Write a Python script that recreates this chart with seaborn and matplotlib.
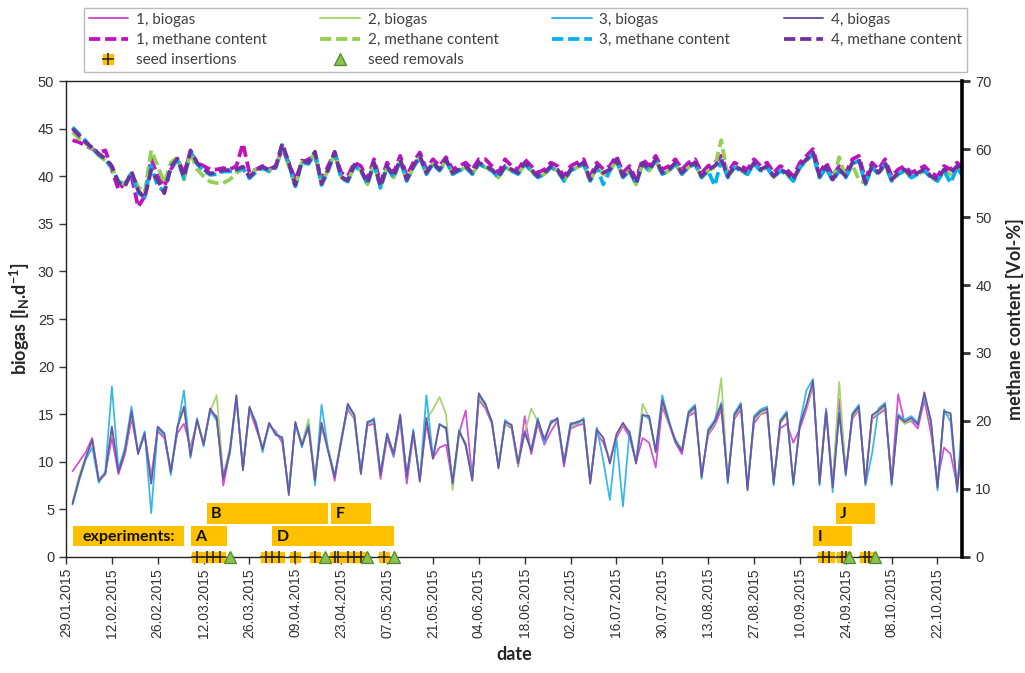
import numpy as np
import pandas as pd
import matplotlib
matplotlib.use("Agg")
import matplotlib.pyplot as plt
import matplotlib.dates as mdates
import seaborn as sns
from matplotlib.lines import Line2D
from matplotlib.legend_handler import HandlerTuple

# ---------------------------------------------------------------------------
# Daily readings of the four digesters, one value every second day
# ---------------------------------------------------------------------------
FIRST_READING = "2015-01-31"

biogas_1 = [
    9.0, 10.0, 11.0, 12.5, 8.2, 8.8, 12.5, 8.7, 10.8, 14.5,
    11.0, 12.8, 8.5, 13.2, 12.5, 9.2, 13.0, 14.0, 11.5, 14.2,
    12.0, 15.2, 14.8, 7.5, 11.0, 16.5, 9.5, 15.5, 13.5, 11.5,
    13.8, 13.2, 12.0, 7.0, 14.0, 11.9, 13.5, 8.5, 13.7, 11.3,
    8.0, 12.4, 15.5, 14.5, 9.0, 13.8, 14.0, 8.2, 12.5, 10.5,
    14.3, 7.7, 12.8, 8.3, 14.0, 10.4, 11.5, 11.8, 7.8, 13.0,
    15.4, 8.3, 16.5, 15.6, 14.0, 9.6, 14.0, 13.5, 9.5, 14.8,
    10.8, 14.0, 11.8, 13.2, 14.3, 9.5, 13.5, 13.8, 14.0, 8.0,
    13.0, 12.0, 10.2, 12.5, 13.8, 12.6, 10.0, 12.5, 12.0, 9.4,
    15.8, 14.0, 12.0, 10.8, 14.8, 15.2, 8.8, 12.8, 13.8, 15.5,
    8.3, 14.5, 15.5, 7.5, 14.0, 15.0, 15.2, 8.0, 13.5, 14.0,
    12.0, 13.5, 15.5, 18.0, 8.0, 15.6, 7.8, 16.6, 9.0, 14.5,
    15.5, 8.0, 14.5, 15.0, 15.5, 8.2, 17.1, 14.0, 14.3, 13.5,
    16.5, 13.0, 8.0, 11.5, 10.8, 7.5, 12.0,
]
biogas_2 = [
    5.8, 8.5, 10.5, 12.0, 8.2, 8.8, 13.5, 9.2, 11.0, 15.0,
    11.0, 12.8, 8.0, 13.5, 12.8, 9.0, 13.8, 15.5, 11.0, 14.2,
    12.0, 15.3, 17.0, 8.5, 11.5, 16.8, 9.3, 15.5, 14.0, 11.5,
    13.9, 13.0, 12.4, 6.8, 14.0, 11.8, 14.5, 8.3, 13.8, 11.4,
    8.6, 12.5, 15.8, 14.6, 9.0, 14.0, 14.2, 8.8, 12.7, 11.0,
    14.6, 8.6, 13.0, 8.0, 14.5, 15.5, 16.8, 15.0, 7.0, 13.0,
    12.0, 8.2, 16.8, 15.8, 14.3, 9.5, 14.0, 13.7, 9.6, 13.0,
    15.6, 14.2, 12.5, 14.0, 14.4, 9.9, 13.7, 14.0, 14.2, 7.9,
    13.2, 12.6, 10.0, 12.8, 14.0, 13.2, 10.0, 16.1, 14.6, 11.2,
    16.3, 14.0, 12.4, 11.3, 14.9, 15.6, 8.6, 13.0, 14.0, 18.8,
    8.0, 14.7, 15.8, 7.2, 14.4, 15.1, 15.4, 7.9, 14.0, 14.9,
    7.9, 14.0, 15.8, 18.2, 7.9, 15.1, 7.5, 18.4, 8.9, 14.7,
    15.6, 7.9, 14.7, 15.2, 15.8, 7.9, 14.6, 14.0, 14.4, 14.1,
    17.0, 14.0, 7.5, 15.0, 14.9, 7.2, 14.4,
]
biogas_3 = [
    5.5, 8.0, 10.2, 11.5, 7.8, 9.0, 17.9, 9.2, 11.5, 15.8,
    11.0, 13.2, 4.6, 13.5, 12.8, 8.6, 13.5, 17.5, 10.4, 14.6,
    11.6, 15.4, 14.3, 8.5, 10.8, 16.8, 9.3, 15.6, 14.2, 11.0,
    14.0, 12.8, 12.6, 6.8, 14.0, 11.5, 13.9, 7.5, 16.0, 11.3,
    8.5, 12.0, 15.8, 15.0, 8.9, 14.0, 14.6, 8.8, 13.0, 10.6,
    15.0, 8.6, 13.4, 8.1, 17.0, 10.5, 14.0, 13.4, 7.9, 13.4,
    11.6, 8.2, 17.0, 16.2, 14.0, 9.5, 14.4, 13.7, 10.0, 13.0,
    11.3, 14.6, 12.0, 14.3, 14.4, 10.0, 14.1, 14.0, 14.6, 7.9,
    13.6, 10.1, 6.0, 12.5, 5.3, 13.2, 10.0, 15.0, 14.5, 11.2,
    17.0, 14.4, 12.0, 11.3, 15.3, 16.0, 8.2, 13.4, 14.4, 16.2,
    7.7, 15.1, 16.2, 7.2, 14.8, 15.5, 15.8, 7.5, 14.4, 15.3,
    7.5, 14.1, 17.5, 18.7, 7.5, 15.5, 6.8, 15.3, 8.5, 15.1,
    16.0, 7.5, 10.8, 15.6, 16.2, 7.5, 15.0, 14.4, 14.8, 14.1,
    17.0, 14.4, 7.0, 15.5, 14.2, 6.8, 17.3,
]
biogas_4 = [
    5.6, 8.2, 10.4, 12.3, 8.0, 8.7, 13.7, 8.9, 11.1, 15.3,
    10.8, 13.0, 7.7, 13.7, 13.0, 8.9, 13.6, 15.8, 10.6, 14.4,
    11.8, 15.6, 14.6, 8.2, 11.1, 17.0, 9.1, 15.8, 13.9, 11.3,
    14.1, 12.9, 12.5, 6.5, 14.2, 11.7, 13.7, 8.0, 14.1, 11.1,
    8.4, 12.2, 16.1, 14.9, 8.7, 14.2, 14.4, 8.6, 12.9, 10.8,
    14.9, 8.4, 13.2, 7.9, 14.6, 10.3, 13.9, 13.6, 7.7, 13.2,
    11.8, 8.0, 17.2, 16.0, 14.2, 9.3, 14.2, 13.9, 9.8, 13.2,
    11.1, 14.4, 12.3, 14.1, 14.6, 9.8, 13.9, 14.2, 14.4, 7.7,
    13.4, 12.5, 9.8, 12.9, 14.1, 13.0, 9.8, 14.9, 14.8, 11.0,
    16.5, 14.2, 12.2, 11.1, 15.1, 15.8, 8.4, 13.2, 14.2, 16.0,
    7.9, 14.9, 16.0, 7.0, 14.6, 15.3, 15.6, 7.7, 14.2, 15.1,
    7.7, 13.9, 16.0, 18.5, 7.7, 15.3, 7.3, 15.1, 8.7, 14.9,
    15.8, 7.7, 14.9, 15.4, 16.0, 7.7, 14.8, 14.2, 14.6, 13.9,
    17.3, 14.2, 7.3, 15.3, 15.1, 7.0, 14.6,
]

methane_1 = [
    61.3, 61.0, 60.5, 60.0, 59.5, 59.8, 57.0, 54.0, 55.0, 56.0,
    51.5, 53.0, 58.5, 56.0, 54.5, 57.0, 58.5, 56.5, 59.5, 58.0,
    57.5, 57.0, 57.0, 57.2, 57.0, 57.5, 60.8, 56.5, 57.0, 57.5,
    57.0, 57.5, 60.0, 58.0, 55.5, 58.0, 58.5, 59.0, 55.5, 57.5,
    59.5, 56.5, 56.0, 58.0, 57.5, 55.5, 58.5, 55.0, 58.0, 56.5,
    59.0, 56.0, 58.0, 59.5, 57.0, 58.5, 57.5, 58.8, 57.0, 57.5,
    58.0, 57.0, 58.5, 58.5, 57.5, 56.5, 58.5, 57.5, 57.0, 58.5,
    57.5, 56.5, 57.0, 58.0, 57.5, 56.0, 57.5, 58.0, 58.5, 56.0,
    58.0, 57.0, 57.5, 59.0, 56.5, 57.5, 55.5, 58.5, 57.5, 59.0,
    57.0, 57.5, 58.5, 57.0, 58.0, 58.5, 56.5, 57.5, 58.0, 59.0,
    56.5, 58.0, 57.5, 57.0, 58.5, 57.5, 58.0, 56.5, 57.5, 57.0,
    56.0, 58.0, 59.0, 60.0, 56.5, 58.0, 56.0, 57.5, 56.5, 58.5,
    59.0, 55.5, 58.0, 57.0, 58.5, 56.0, 57.0, 57.5, 56.5, 57.0,
    57.5, 56.5, 56.0, 57.5, 57.0, 58.0, 57.0,
]
methane_2 = [
    62.5, 61.5, 60.8, 60.0, 59.0, 58.3, 57.2, 55.3, 54.8, 56.5,
    54.5, 53.5, 59.8, 57.5, 55.0, 58.0, 58.8, 55.5, 59.5, 57.0,
    56.0, 55.2, 55.0, 55.0, 55.5, 56.5, 57.0, 56.0, 57.0, 57.2,
    56.8, 57.2, 60.2, 57.5, 54.5, 58.0, 57.8, 59.5, 54.8, 57.0,
    59.4, 55.8, 55.2, 57.5, 56.8, 54.8, 57.8, 54.3, 57.3, 55.8,
    58.3, 55.3, 57.3, 58.8, 56.3, 57.8, 56.8, 58.3, 56.3, 56.8,
    57.3, 56.3, 57.8, 57.3, 56.8, 55.8, 57.3, 56.8, 56.3, 57.8,
    56.8, 55.8, 56.3, 57.3, 56.8, 55.3, 56.8, 57.3, 57.8, 55.3,
    57.3, 56.3, 56.8, 58.3, 55.8, 56.8, 54.8, 57.8, 56.8, 58.3,
    56.3, 56.8, 57.8, 56.3, 57.3, 57.8, 55.8, 56.8, 57.3, 61.3,
    55.8, 57.3, 56.8, 56.3, 57.8, 56.8, 57.3, 55.8, 56.8, 56.3,
    55.3, 57.3, 58.3, 59.3, 55.8, 57.3, 55.3, 58.8, 55.8, 57.8,
    55.4, 55.0, 57.3, 56.3, 57.8, 55.3, 56.3, 56.8, 55.8, 56.3,
    56.8, 55.8, 55.3, 56.8, 56.3, 57.3, 55.8,
]
methane_3 = [
    63.2, 62.2, 61.2, 60.0, 59.2, 58.4, 57.3, 55.2, 54.7, 56.5,
    53.5, 53.0, 57.5, 54.5, 53.8, 57.2, 58.4, 55.7, 59.6, 57.8,
    56.8, 56.2, 56.3, 56.7, 56.7, 56.8, 57.2, 55.7, 56.6, 57.2,
    56.7, 57.2, 60.6, 57.8, 54.5, 58.1, 57.8, 59.4, 54.7, 56.8,
    59.4, 55.7, 55.2, 57.5, 56.8, 54.8, 57.8, 54.3, 57.3, 55.8,
    58.3, 55.3, 57.3, 58.8, 56.3, 57.8, 56.8, 58.3, 56.3, 56.8,
    57.3, 56.3, 57.8, 57.3, 56.8, 55.8, 57.3, 56.8, 56.3, 57.8,
    56.8, 55.8, 56.3, 57.3, 56.8, 55.3, 56.8, 57.3, 57.8, 55.3,
    57.3, 54.8, 56.8, 58.3, 55.8, 56.8, 54.8, 57.8, 56.8, 58.3,
    56.3, 56.8, 57.8, 56.3, 57.3, 57.8, 55.8, 56.8, 54.6, 58.3,
    55.8, 57.3, 56.8, 56.3, 57.8, 56.8, 57.3, 55.8, 56.8, 56.3,
    55.3, 57.3, 58.3, 59.3, 55.8, 57.3, 55.3, 56.8, 55.8, 57.8,
    58.3, 54.8, 57.3, 56.3, 57.8, 55.3, 56.3, 56.8, 55.8, 56.3,
    56.8, 55.8, 55.3, 56.8, 55.0, 57.3, 55.8,
]
methane_4 = [
    63.0, 62.0, 61.0, 60.2, 59.3, 58.6, 57.5, 55.0, 54.5, 56.7,
    53.9, 52.8, 56.9, 55.4, 53.5, 57.4, 58.6, 55.9, 59.8, 58.0,
    57.0, 56.4, 56.5, 56.9, 56.9, 57.0, 57.4, 55.9, 56.8, 57.4,
    56.9, 57.4, 60.8, 58.0, 54.7, 58.3, 58.0, 59.6, 54.9, 57.0,
    59.6, 55.9, 55.4, 57.7, 57.0, 55.0, 58.0, 54.5, 57.5, 56.0,
    58.5, 55.5, 57.5, 59.0, 56.5, 58.0, 57.0, 58.5, 56.5, 57.0,
    57.5, 56.5, 58.0, 57.5, 57.0, 56.0, 57.5, 57.0, 56.5, 58.0,
    57.0, 56.0, 56.5, 57.5, 57.0, 55.5, 57.0, 57.5, 58.0, 55.5,
    57.5, 56.5, 57.0, 58.5, 56.0, 57.0, 55.0, 58.0, 57.0, 58.5,
    56.5, 57.0, 58.0, 56.5, 57.5, 58.0, 56.0, 57.0, 57.5, 58.5,
    56.0, 57.5, 57.0, 56.5, 58.0, 57.0, 57.5, 56.0, 57.0, 56.5,
    55.5, 57.5, 58.5, 59.5, 56.0, 57.5, 55.5, 57.0, 56.0, 58.0,
    58.5, 55.0, 57.5, 56.5, 58.0, 55.5, 56.5, 57.0, 56.0, 56.5,
    57.0, 56.0, 55.5, 57.0, 56.5, 57.5, 56.0,
]

# Experiment periods: (label, start, end, row)  row 0 = lower, row 1 = upper
experiment_labels = ["A", "B", "D", "F", "I", "J"]
experiment_starts = ["2015-03-08", "2015-03-13", "2015-04-02", "2015-04-20", "2015-09-14", "2015-09-21"]
experiment_ends = ["2015-03-19", "2015-04-19", "2015-05-09", "2015-05-02", "2015-09-26", "2015-10-03"]
experiment_rows = [0, 1, 0, 1, 0, 1]

seed_insertions = [
    "2015-03-10", "2015-03-13", "2015-03-15", "2015-03-17",
    "2015-03-31", "2015-04-02", "2015-04-04", "2015-04-09", "2015-04-15",
    "2015-04-21", "2015-04-22", "2015-04-25", "2015-04-27", "2015-04-29",
    "2015-05-06",
    "2015-09-17", "2015-09-19", "2015-09-23", "2015-09-24",
    "2015-09-30", "2015-10-01",
]
seed_removals = ["2015-03-20", "2015-04-18", "2015-05-01", "2015-05-09",
                 "2015-09-25", "2015-10-03"]

series_names = ["1", "2", "3", "4"]
biogas_colors = ["#D24ED2", "#A8D46F", "#35B8E8", "#6A55A8"]
methane_colors = ["#C010C0", "#92D050", "#00B0F0", "#7030A0"]

# ---------------------------------------------------------------------------
dates = pd.date_range(FIRST_READING, periods=len(biogas_4), freq="2D")

bio_df = pd.concat([
    pd.DataFrame({"date": dates, "value": vals, "series": name})
    for name, vals in zip(series_names, [biogas_1, biogas_2, biogas_3, biogas_4])
])
met_df = pd.concat([
    pd.DataFrame({"date": dates, "value": vals, "series": name})
    for name, vals in zip(series_names, [methane_1, methane_2, methane_3, methane_4])
])

sns.set_theme(style="ticks")
plt.rcParams["font.family"] = ["Liberation Sans", "DejaVu Sans"]
plt.rcParams["mathtext.default"] = "regular"

fig = plt.figure(figsize=(10.25, 6.73), dpi=100)
ax = fig.add_axes([0.0644, 0.1724, 0.8742, 0.7072])

sns.lineplot(data=bio_df, x="date", y="value", hue="series", hue_order=series_names,
             palette=biogas_colors, lw=1.25, estimator=None, legend=False, ax=ax)

ax2 = ax.twinx()
sns.lineplot(data=met_df, x="date", y="value", hue="series", hue_order=series_names,
             palette=methane_colors, lw=2.7, estimator=None, legend=False, ax=ax2)
for ln in ax2.lines:
    ln.set_dashes((3.0, 1.3))

# experiment periods as horizontal bars
gold = "#FFC000"
row_centre = [2.2, 4.55]
row_height = 2.15
for lab, s, e, r in zip(experiment_labels, experiment_starts, experiment_ends, experiment_rows):
    s_num = mdates.date2num(pd.Timestamp(s))
    e_num = mdates.date2num(pd.Timestamp(e))
    ax.barh(row_centre[r], e_num - s_num, left=s_num, height=row_height,
            color=gold, edgecolor="none", zorder=3)
    ax.text(s_num + 1.3, row_centre[r] - 0.05, lab, ha="left", va="center",
            fontsize=11.5, fontweight="bold", family="Lato", color="#111111", zorder=4)

# "experiments:" caption box
cap_s = mdates.date2num(pd.Timestamp("2015-01-31"))
cap_e = mdates.date2num(pd.Timestamp("2015-03-06"))
ax.barh(row_centre[0], cap_e - cap_s, left=cap_s, height=row_height,
        color=gold, edgecolor="none", zorder=3)
ax.text((cap_s + cap_e) / 2, row_centre[0] - 0.05, "experiments:", ha="center", va="center",
        fontsize=11.5, fontweight="bold", family="Lato", color="#111111", zorder=4)

# seed events on the time axis
ins = pd.to_datetime(seed_insertions)
rem = pd.to_datetime(seed_removals)
ax.plot(ins, np.zeros(len(ins)), ls="none", marker="s", ms=7.5, mfc=gold, mec=gold,
        clip_on=False, zorder=6)
ax.plot(ins, np.zeros(len(ins)), ls="none", marker="+", ms=8, mec="#222222", mew=1.1,
        clip_on=False, zorder=7)
ax.plot(rem, np.zeros(len(rem)), ls="none", marker="^", ms=9, mfc="#8CC152", mec="#4E8A2E",
        mew=0.9, clip_on=False, zorder=8)

# axes
ax.set_xlim(pd.Timestamp("2015-01-29"), pd.Timestamp("2015-01-29") + pd.Timedelta(days=273.5))
ax.set_ylim(0, 50)
ax2.set_ylim(0, 70)
ax.set_yticks(np.arange(0, 51, 5))
ax2.set_yticks(np.arange(0, 71, 10))
ax.set_xticks(pd.date_range("2015-01-29", "2015-10-22", freq="14D"))
ax.xaxis.set_major_formatter(mdates.DateFormatter("%d.%m.%Y"))
ax.tick_params(axis="x", rotation=90, labelsize=10, colors="#333333", length=5, width=1, pad=3)
ax.tick_params(axis="y", labelsize=10.5, colors="#333333", length=5, width=1)
ax2.tick_params(axis="y", labelsize=10.5, colors="#333333", length=6, width=2)
for t in ax.get_xticklabels() + ax.get_yticklabels() + ax2.get_yticklabels():
    t.set_color("#333333")

for sp in ["left", "bottom", "top"]:
    ax.spines[sp].set_color("#222222")
    ax.spines[sp].set_linewidth(1.0)
ax.spines["right"].set_visible(False)
for sp in ["left", "bottom", "top"]:
    ax2.spines[sp].set_visible(False)
ax2.spines["right"].set_color("black")
ax2.spines["right"].set_linewidth(2.6)

ax.set_xlabel("date", fontsize=13, fontweight="bold", family="Lato", labelpad=6)
ax.set_ylabel(r"biogas [l$_{N}$.d$^{-1}$]", fontsize=13, fontweight="bold", family="Lato", labelpad=4)
ax2.set_ylabel("methane content [Vol-%]", fontsize=13, fontweight="bold", family="Lato", labelpad=10)

# legend
handles, labels = [], []
for name, bc, mc in zip(series_names, biogas_colors, methane_colors):
    handles.append(Line2D([], [], color=bc, lw=1.4))
    labels.append(f"{name}, biogas")
    handles.append(Line2D([], [], color=mc, lw=2.7, dashes=(3.0, 1.3)))
    labels.append(f"{name}, methane content")
    if name == "1":
        sq = Line2D([], [], ls="none", marker="s", ms=7.5, mfc=gold, mec=gold)
        pl = Line2D([], [], ls="none", marker="+", ms=8, mec="#222222", mew=1.1)
        handles.append((sq, pl))
        labels.append("seed insertions")
    if name == "2":
        handles.append(Line2D([], [], ls="none", marker="^", ms=9, mfc="#8CC152",
                              mec="#4E8A2E", mew=0.9))
        labels.append("seed removals")

leg = fig.legend(handles, labels, ncol=4, loc="upper left", mode="expand",
                 bbox_to_anchor=(0.082, 0.988, 0.861, 0.0), borderaxespad=0.0,
                 frameon=True, fancybox=False,
                 handlelength=2.6, handletextpad=0.5, labelspacing=0.42, borderpad=0.3,
                 prop={"family": "Lato", "size": 11},
                 handler_map={tuple: HandlerTuple(ndivide=1, pad=0)})
leg.get_frame().set_edgecolor("#AAAAAA")
leg.get_frame().set_linewidth(1.0)
for t in leg.get_texts():
    t.set_color("#404040")

fig.savefig("out.png", dpi=100)
